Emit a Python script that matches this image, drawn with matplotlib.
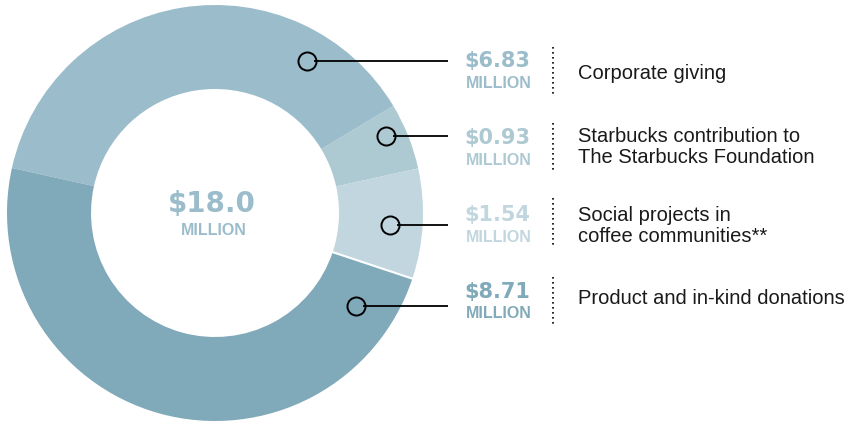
import matplotlib
matplotlib.use("Agg")
import matplotlib.pyplot as plt
import numpy as np

# ---- data ----
categories = ["Corporate giving",
              "Starbucks contribution to\nThe Starbucks Foundation",
              "Social projects in\ncoffee communities**",
              "Product and in-kind donations"]
values = [6.83, 0.93, 1.54, 8.71]
value_labels = ["$6.83", "$0.93", "$1.54", "$8.71"]
total_label = "$18.0"
unit_label = "MILLION"
colors = ["#9bbccb", "#adc9d2", "#c1d6df", "#80a9b9"]

# ---- layout (pixel coordinates, y measured from top) ----
W, H = 848, 423
center_px = (215, 213)
r_outer, r_inner = 208, 124
start_angle = 167.5
anchor_px = [(307, 61), (386, 136), (390, 225), (356, 306)]
value_y_px = [61, 138, 215, 292]
label_y_px = [73, 147, 226, 298]
dot_ranges = [(47, 95), (123, 171), (198, 247), (277, 325)]

def Y(py):
    return H - py

fig = plt.figure(figsize=(W / 100, H / 100), dpi=100)
ax = fig.add_axes([0, 0, 1, 1])

cx, cy = center_px[0], Y(center_px[1])
wedges, _ = ax.pie(values, colors=colors, startangle=start_angle, counterclock=False,
                   center=(cx, cy), radius=r_outer,
                   wedgeprops=dict(width=r_outer - r_inner, linewidth=0))

# thin white separator between the social-projects and product segments
theta = np.deg2rad(start_angle - 360 * sum(values[:3]) / sum(values))
ax.plot([cx + r_inner * np.cos(theta), cx + r_outer * np.cos(theta)],
        [cy + r_inner * np.sin(theta), cy + r_outer * np.sin(theta)],
        color="white", lw=1.5, zorder=2)

ax.set_xlim(0, W)
ax.set_ylim(0, H)
ax.set_aspect("equal")
ax.axis("off")

# centre text
ax.text(212, Y(204), total_label, ha="center", va="center", fontsize=20,
        fontweight="bold", family="DejaVu Sans", color=colors[0])
ax.text(214, Y(230), unit_label, ha="center", va="center", fontsize=11.5,
        fontweight="bold", family="Liberation Sans", color=colors[0])

for i in range(len(values)):
    ax_, ay_ = anchor_px[i]
    ax.plot([ax_ + 7, 448], [Y(ay_), Y(ay_)], color="black", lw=1.3,
            solid_capstyle="butt", zorder=3)
    ax.plot([ax_], [Y(ay_)], marker="o", markersize=13, markerfacecolor="none",
            markeredgecolor="black", markeredgewidth=1.4, zorder=4)
    ax.text(497, Y(value_y_px[i]), value_labels[i], ha="center", va="center",
            fontsize=15, fontweight="bold", family="DejaVu Sans", color=colors[i])
    ax.text(499, Y(value_y_px[i] + 22), unit_label, ha="center", va="center",
            fontsize=11.5, fontweight="bold", family="Liberation Sans",
            color=colors[i])
    y0, y1 = dot_ranges[i]
    ax.plot([553, 553], [Y(y0), Y(y1)], color="black", lw=1.2,
            linestyle=(0, (1, 2)))
    ax.text(578, Y(label_y_px[i]), categories[i], ha="left", va="center",
            fontsize=14.5, family="Liberation Sans", color="#1a1a1a",
            linespacing=1.15)

fig.savefig("out.png", dpi=100)
